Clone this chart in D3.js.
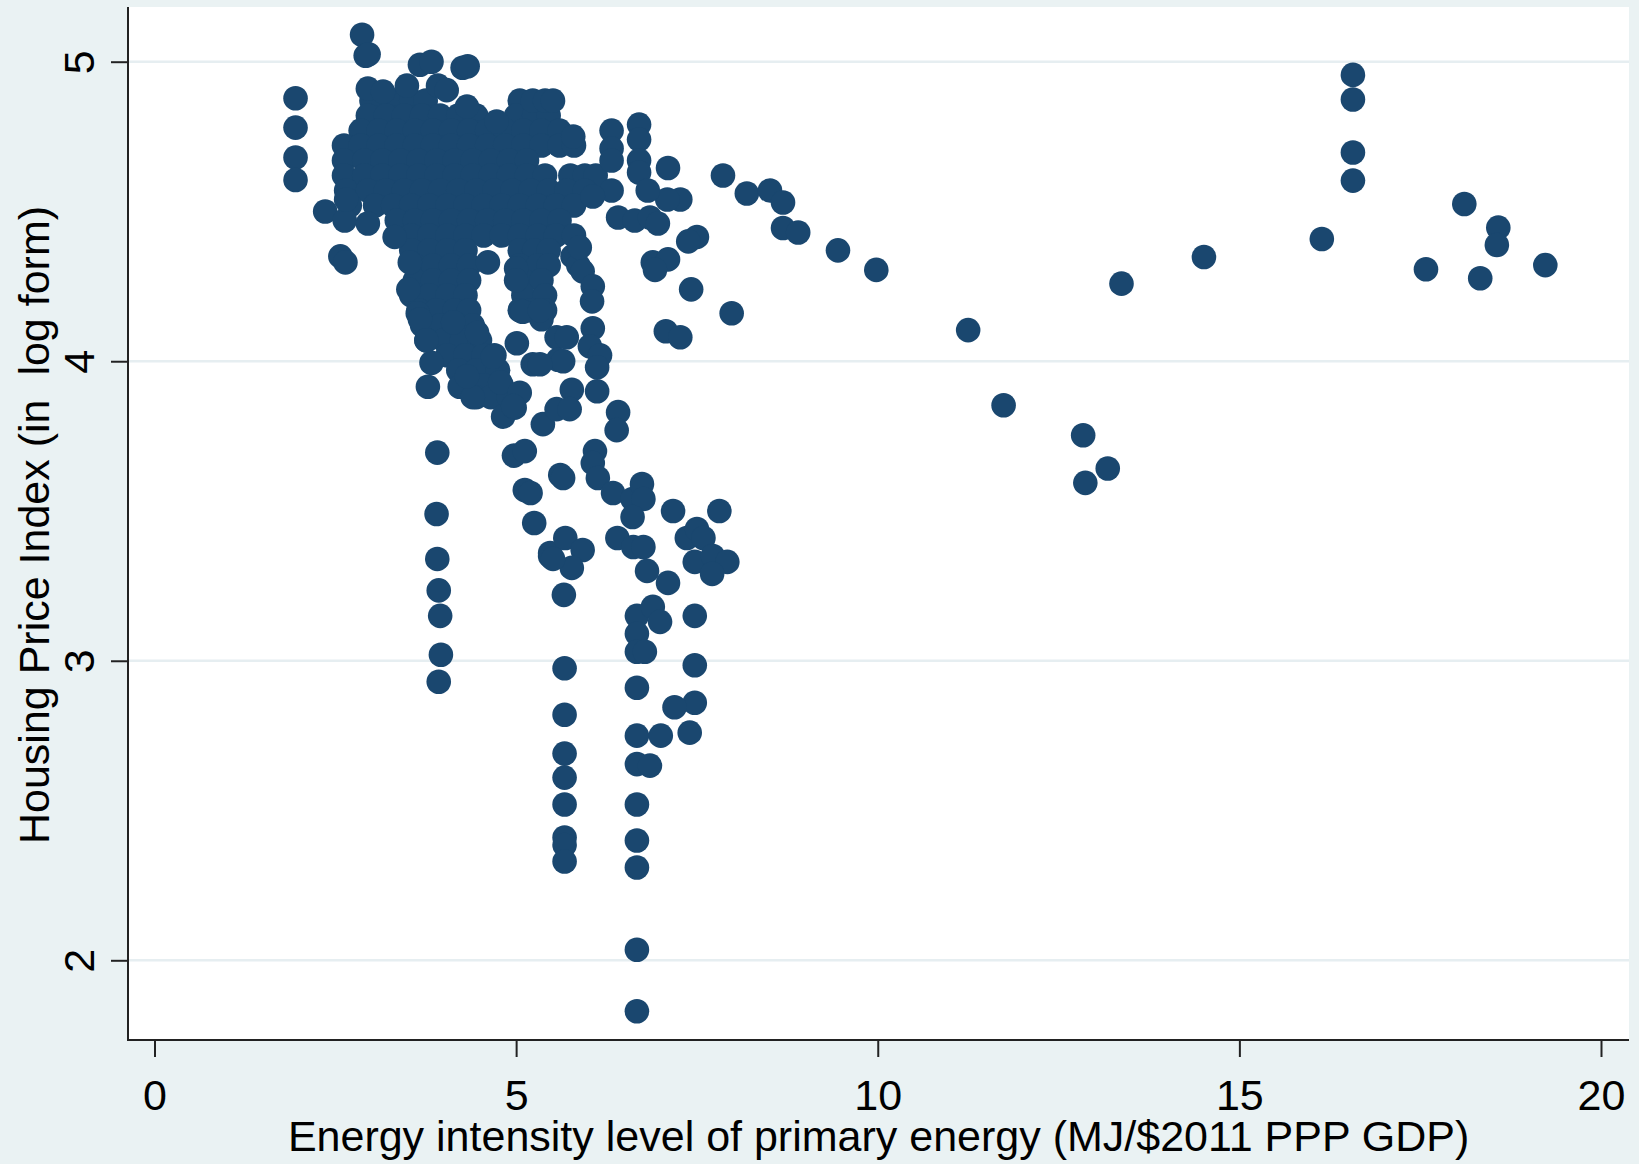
<!DOCTYPE html>
<html>
<head>
<meta charset="utf-8">
<script src="https://cdn.jsdelivr.net/npm/d3@7"></script>
<style>
html, body { margin: 0; padding: 0; background: #eaf2f3; }
svg { display: block; }
text { font-family: Arial, "Liberation Sans", sans-serif; fill: #000; }
</style>
</head>
<body>
<svg id="chart"></svg>
<script>
// tick values
const xTicks = [0, 5, 10, 15, 20];
const yTicks = [2, 3, 4, 5];

// dense core, read row by row: [y, [x values]]
const coreRows = [
    [4.87, [3.0, 3.3, 3.55, 3.75, 5.05]],
    [4.82, [2.95, 3.2, 3.45, 3.7, 3.95, 4.2, 4.45, 5.0, 5.25, 5.45]],
    [4.77, [2.85, 3.1, 3.35, 3.6, 3.85, 4.1, 4.35, 4.6, 4.85, 5.1, 5.35, 5.6]],
    [4.72, [2.62, 2.85, 3.1, 3.35, 3.6, 3.85, 4.1, 4.35, 4.6, 4.85, 5.1, 5.35, 5.6, 5.8]],
    [4.67, [2.62, 2.9, 3.15, 3.4, 3.65, 3.9, 4.15, 4.4, 4.65, 4.9, 5.15]],
    [4.62, [2.62, 2.9, 3.15, 3.4, 3.65, 3.9, 4.15, 4.4, 4.65, 4.9, 5.15, 5.4, 5.75, 5.95, 6.1]],
    [4.57, [2.65, 2.95, 3.2, 3.45, 3.7, 3.95, 4.2, 4.45, 4.7, 4.95, 5.2, 5.45, 5.7, 5.95]],
    [4.52, [2.7, 3.05, 3.3, 3.55, 3.8, 4.05, 4.3, 4.55, 4.8, 5.05, 5.3, 5.55, 5.8]],
    [4.47, [3.35, 3.6, 3.85, 4.1, 4.35, 4.6, 4.85, 5.1, 5.35, 5.6]],
    [4.42, [3.55, 3.8, 4.05, 4.3, 4.55, 4.8, 5.05, 5.3, 5.55, 5.8]],
    [4.37, [3.55, 3.8, 4.05, 4.3, 5.05, 5.25, 5.45]],
    [4.32, [3.6, 3.85, 4.1, 4.35, 5.05, 5.3, 5.45]],
    [4.27, [3.6, 3.85, 4.1, 4.35, 5.1, 5.35]],
    [4.22, [3.55, 3.8, 4.05, 4.3, 5.1, 5.4]],
    [4.17, [3.65, 3.9, 4.15, 4.35, 5.2, 5.4]],
    [4.12, [3.7, 3.95, 4.2, 4.4]],
    [4.07, [3.76, 4.0, 4.25, 4.5]],
    [4.02, [4.05, 4.3, 4.55, 4.7]],
    [3.97, [4.2, 4.45, 4.75]],
    [3.92, [4.3, 4.55, 4.8]],
    [3.88, [4.45, 4.65, 4.9]]
];

const upperLeft = [
    [1.95, 4.878], [1.95, 4.78], [1.95, 4.68], [1.95, 4.605],
    [2.36, 4.50], [2.57, 4.35], [2.64, 4.33], [2.63, 4.47], [2.65, 4.54], [2.95, 4.46],
    [2.87, 5.09], [2.92, 5.02], [2.96, 5.025],
    [3.67, 4.99], [3.83, 5.0], [4.26, 4.98], [4.33, 4.985],
    [2.95, 4.91], [3.16, 4.90], [3.49, 4.92], [3.92, 4.92], [4.04, 4.905], [4.32, 4.85], [4.73, 4.80],
    [3.32, 4.415], [3.53, 4.33], [3.51, 4.24], [3.64, 4.16], [4.61, 4.33]
];

const upperRight = [
    [5.23, 4.87], [5.4, 4.87], [5.51, 4.87], [5.79, 4.75],
    [6.32, 4.77], [6.32, 4.71], [6.32, 4.67],
    [6.70, 4.79], [6.70, 4.74], [6.70, 4.67], [6.70, 4.63],
    [7.10, 4.645], [7.86, 4.62], [8.19, 4.56], [8.51, 4.57], [8.69, 4.53], [8.69, 4.445], [8.90, 4.43],
    [9.45, 4.37], [9.98, 4.305],
    [7.27, 4.54], [7.09, 4.54], [6.82, 4.57], [6.32, 4.57], [6.06, 4.55],
    [6.41, 4.48], [6.64, 4.47], [6.85, 4.48], [6.96, 4.46],
    [7.50, 4.415], [7.38, 4.40], [6.89, 4.33], [7.10, 4.34], [6.92, 4.305], [7.42, 4.24], [7.98, 4.16],
    [7.07, 4.10], [7.27, 4.08],
    [5.78, 4.35], [5.86, 4.32], [5.88, 4.38], [5.92, 4.30], [6.06, 4.25], [6.05, 4.20],
    [5.0, 4.31], [5.0, 4.27], [5.05, 4.17], [5.35, 4.14]
];

const farRight = [
    [11.25, 4.104], [11.74, 3.853], [12.84, 3.753], [12.87, 3.594], [13.18, 3.642],
    [13.37, 4.259], [14.51, 4.348], [16.14, 4.408],
    [16.57, 4.956], [16.57, 4.874], [16.57, 4.697], [16.57, 4.603],
    [17.58, 4.307], [18.11, 4.525], [18.33, 4.277], [18.58, 4.446], [18.56, 4.388], [19.23, 4.321]
];

const lowerPoints = [
    [3.91, 3.695], [3.90, 3.49], [3.91, 3.34], [3.93, 3.235], [3.95, 3.15], [3.96, 3.02], [3.93, 2.93],
    [3.83, 3.995], [3.78, 3.915], [4.22, 3.915], [4.40, 3.88], [4.82, 3.815], [4.98, 3.845], [5.37, 3.79], [5.01, 4.06],
    [4.97, 3.685], [5.12, 3.70], [5.12, 3.57], [5.2, 3.56], [5.25, 3.46], [5.47, 3.35], [5.61, 3.62],
    [3.67, 4.14], [3.76, 4.07], [4.13, 4.13], [4.46, 4.095], [4.68, 4.015], [4.32, 3.95], [4.78, 3.93],
    [5.05, 3.895], [5.23, 3.99], [4.96, 3.85], [5.09, 4.165], [5.33, 4.17], [5.56, 4.08], [5.58, 4.005], [5.56, 3.84],
    [6.06, 4.11], [5.70, 4.08], [6.02, 4.05], [6.16, 4.02], [6.12, 3.98], [5.65, 4.0], [5.33, 3.99],
    [5.77, 3.905], [5.74, 3.84], [6.12, 3.90], [6.41, 3.83], [6.39, 3.77], [6.09, 3.70], [6.06, 3.66], [6.13, 3.61],
    [5.65, 3.61], [6.34, 3.56], [6.61, 3.54], [6.74, 3.59], [6.76, 3.54], [6.61, 3.48], [7.17, 3.50], [7.81, 3.50],
    [6.40, 3.41], [6.62, 3.38], [6.76, 3.38], [7.36, 3.41], [7.50, 3.44], [7.59, 3.41],
    [7.47, 3.33], [7.72, 3.35], [7.92, 3.33], [7.71, 3.29], [6.81, 3.30], [7.10, 3.26],
    [5.47, 3.36], [5.68, 3.41], [5.92, 3.37], [5.77, 3.31], [5.51, 3.34], [5.66, 3.22],
    [5.67, 2.975], [5.67, 2.82], [5.67, 2.69], [5.67, 2.61], [5.67, 2.52], [5.67, 2.41], [5.67, 2.385], [5.67, 2.33],
    [6.67, 3.15], [6.89, 3.18], [6.99, 3.13], [6.67, 3.09], [6.67, 3.03], [6.78, 3.03],
    [7.47, 3.15], [7.47, 2.985], [7.47, 2.86], [7.19, 2.845], [7.40, 2.76],
    [6.67, 2.91], [6.67, 2.75], [7.00, 2.75], [6.67, 2.655], [6.85, 2.65],
    [6.67, 2.52], [6.67, 2.40], [6.67, 2.31], [6.67, 2.035], [6.67, 1.83]
];

const xTitle = "Energy intensity level of primary energy (MJ/$2011 PPP GDP)";
const yTitle = "Housing Price Index (in  log form)";

const width = 1639, height = 1164;
const plot = { left: 128, right: 1629, top: 7, bottom: 1040 };

const svg = d3.select("#chart")
    .attr("width", width)
    .attr("height", height);

svg.append("rect")
    .attr("width", width).attr("height", height)
    .attr("fill", "#eaf2f3");

svg.append("rect")
    .attr("x", plot.left).attr("y", plot.top)
    .attr("width", plot.right - plot.left)
    .attr("height", plot.bottom - plot.top)
    .attr("fill", "#fff");

const x = d3.scaleLinear().domain([0, 20]).range([154.5, 1601]);
const y = d3.scaleLinear().domain([2, 5]).range([960.3, 61.7]);

// grid
svg.append("g").selectAll("line")
    .data(yTicks)
    .enter().append("line")
    .attr("x1", plot.left).attr("x2", plot.right)
    .attr("y1", d => y(d)).attr("y2", d => y(d))
    .attr("stroke", "#e6eef1")
    .attr("stroke-width", 2.5);

// points
const points = coreRows.flatMap(([yv, xs]) => xs.map(xv => [xv, yv]))
    .concat(upperLeft, upperRight, farRight, lowerPoints);

svg.append("g").selectAll("circle")
    .data(points)
    .enter().append("circle")
    .attr("cx", d => x(d[0]))
    .attr("cy", d => y(d[1]))
    .attr("r", 12.3)
    .attr("fill", "#1a476f");

// axes
const yAxis = svg.append("g")
    .attr("transform", `translate(${plot.left},0)`)
    .call(d3.axisLeft(y).tickValues(yTicks).tickFormat(d3.format("d")).tickSize(17).tickSizeOuter(0));
yAxis.select(".domain").remove();
yAxis.selectAll(".tick line").attr("stroke", "#222").attr("stroke-width", 2);
yAxis.selectAll(".tick text")
    .attr("x", null).attr("dy", null)
    .attr("text-anchor", "middle")
    .attr("transform", "translate(-34,0) rotate(-90)")
    .style("font-size", "43px");

const xAxis = svg.append("g")
    .attr("transform", `translate(0,${plot.bottom})`)
    .call(d3.axisBottom(x).tickValues(xTicks).tickFormat(d3.format("d")).tickSize(17).tickSizeOuter(0));
xAxis.select(".domain").remove();
xAxis.selectAll(".tick line").attr("stroke", "#222").attr("stroke-width", 2);
xAxis.selectAll(".tick text")
    .attr("y", 70).attr("dy", null)
    .style("font-size", "43px");

svg.append("line")
    .attr("x1", plot.left).attr("x2", plot.left)
    .attr("y1", plot.top).attr("y2", plot.bottom + 1)
    .attr("stroke", "#222").attr("stroke-width", 2);
svg.append("line")
    .attr("x1", plot.left - 1).attr("x2", plot.right)
    .attr("y1", plot.bottom).attr("y2", plot.bottom)
    .attr("stroke", "#222").attr("stroke-width", 2);

// titles
svg.append("text")
    .attr("x", 878.6).attr("y", 1151)
    .attr("text-anchor", "middle")
    .style("font-size", "43px")
    .text(xTitle);

svg.append("text")
    .attr("transform", "translate(49,525) rotate(-90)")
    .attr("text-anchor", "middle")
    .style("font-size", "43px")
    .style("white-space", "pre")
    .text(yTitle);
</script>
</body>
</html>
